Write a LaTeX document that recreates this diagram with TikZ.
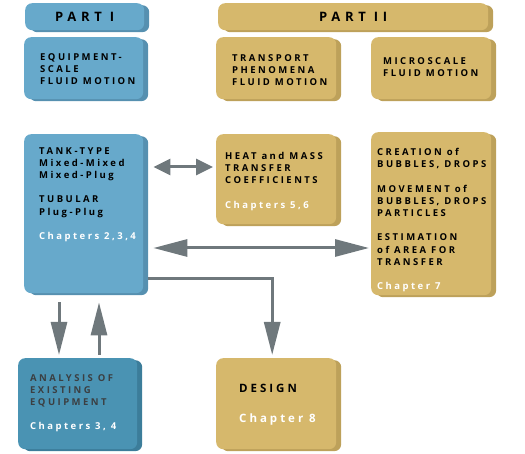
\documentclass[tikz,border=0pt]{standalone}
\usepackage{fontspec}
\setmainfont{Open Sans}
\newfontfamily\boxfont[LetterSpace=26]{Open Sans}
\newfontfamily\headfont[LetterSpace=36]{Open Sans}
\usetikzlibrary{arrows.meta,shadows}

\definecolor{partblue}{HTML}{67A9CB}
\definecolor{blueshade}{HTML}{5690B0}
\definecolor{darkblue}{HTML}{4A93B3}
\definecolor{darkshade}{HTML}{3C7D9A}
\definecolor{gold}{HTML}{D6B86C}
\definecolor{goldshade}{HTML}{BDA15A}
\definecolor{arrowgrey}{HTML}{6F787C}
\definecolor{txtgrey}{HTML}{3B3F42}

\begin{document}
\begin{tikzpicture}[x=1pt,y=-1pt,
	shape box/.style = {anchor=north west, rounded corners=7pt, inner sep=0pt},
	blue node/.style = {shape box, fill=partblue, general shadow={fill=blueshade, shadow xshift=5pt, shadow yshift=-2pt}},
	gold node/.style = {shape box, fill=gold, general shadow={fill=goldshade, shadow xshift=5pt, shadow yshift=-2pt}},
	dark node/.style = {shape box, fill=darkblue, general shadow={fill=darkshade, shadow xshift=5pt, shadow yshift=-2pt}},
	box text/.style = {anchor=north west, inner sep=0pt, align=left, font=\boxfont\bfseries\fontsize{9.5}{12.2}\selectfont},
	big text/.style = {box text, font=\boxfont\bfseries\fontsize{11.5}{14}\selectfont},
	head text/.style = {font=\headfont\bfseries\fontsize{13}{15}\selectfont},
	arrow line/.style = {draw=arrowgrey, line width=3pt, -{Triangle[length=33pt,width=16pt]}},
	big both/.style = {arrow line, {Triangle[length=34pt,width=17pt]}-{Triangle[length=34pt,width=17pt]}},
	small both/.style = {arrow line, {Triangle[length=17pt,width=16pt]}-{Triangle[length=17pt,width=16pt]}}]
	
	\useasboundingbox (0,0) rectangle (525,454);
	
	% headers and the boxes under them
	\node[blue node, minimum width=119, minimum height=27] (part1) at (25,3) {};
	\node[head text] (part1txt) at (part1) {PART I};
	\node[gold node, minimum width=270, minimum height=27] (part2) at (218,3) {};
	\node[head text] (part2txt) at (part2) {PART II};
	\node[blue node, minimum width=119, minimum height=62] (equip) at (24,37) {};
	\node[gold node, minimum width=120, minimum height=62] (transport) at (216,37) {};
	\node[gold node, minimum width=120, minimum height=62] (micro) at (371,37) {};
	\node[blue node, minimum width=119, minimum height=159] (tank) at (24,134) {};
	\node[gold node, minimum width=120, minimum height=90] (heat) at (216,134) {};
	\node[gold node, minimum width=120, minimum height=163] (creation) at (371,132) {};
	\node[dark node, minimum width=119, minimum height=91] (analysis) at (18,358) {};
	\node[gold node, minimum width=120, minimum height=91] (design) at (216,358) {};
	
	% texts
	\node[box text] (equiptxt) at ([shift={(16,16)}]equip.north west) {EQUIPMENT-\\SCALE\\FLUID MOTION};
	\node[box text] (transporttxt) at ([shift={(16,17)}]transport.north west) {TRANSPORT\\PHENOMENA\\FLUID MOTION};
	\node[box text] (microtxt) at ([shift={(12,20)}]micro.north west) {MICROSCALE\\FLUID MOTION};
	\node[box text] (tanktxt) at ([shift={(15,13)}]tank.north west)
	{TANK-TYPE\\Mixed-Mixed\\Mixed-Plug\\[12.2pt]TUBULAR\\Plug-Plug\\[12.2pt]\textcolor{white}{Chapters 2,3,4}};
	\node[box text] (heattxt) at ([shift={(9,18)}]heat.north west)
	{HEAT and MASS\\TRANSFER\\COEFFICIENTS\\[12.2pt]\textcolor{white}{Chapters 5,6}};
	\node[box text] (creationtxt) at ([shift={(6,16)}]creation.north west)
	{CREATION of\\BUBBLES, DROPS\\[12.2pt]MOVEMENT of\\BUBBLES, DROPS\\PARTICLES\\[12.2pt]ESTIMATION\\of AREA FOR\\TRANSFER\\[12.2pt]\textcolor{white}{Chapter 7}};
	\node[box text, text=txtgrey] (analysistxt) at ([shift={(12,16)}]analysis.north west)
	{ANALYSIS OF\\EXISTING\\EQUIPMENT\\[12.2pt]\textcolor{white}{Chapters 3, 4}};
	\node[big text] (designtxt) at ([shift={(23,26)}]design.north west)
	{DESIGN\\[16pt]\textcolor{white}{Chapter 8}};
	
	% connectors
	\draw[small both] ([shift={(10,33)}]tank.north east) -- ([shift={(-3,33)}]heat.north west);
	\draw[big both] ([shift={(10,114)}]tank.north east) -- ([shift={(-2,116)}]creation.north west);
	\draw[arrow line] ([shift={(5,-15)}]tank.south east) -| ([shift={(-4,-3)}]design.north);
	\draw[arrow line] ([shift={(35,9)}]tank.south west) -- ([shift={(41,-3)}]analysis.north west);
	\draw[arrow line] ([shift={(81,-3)}]analysis.north west) -- ([shift={(75,9)}]tank.south west);
\end{tikzpicture}
\end{document}
